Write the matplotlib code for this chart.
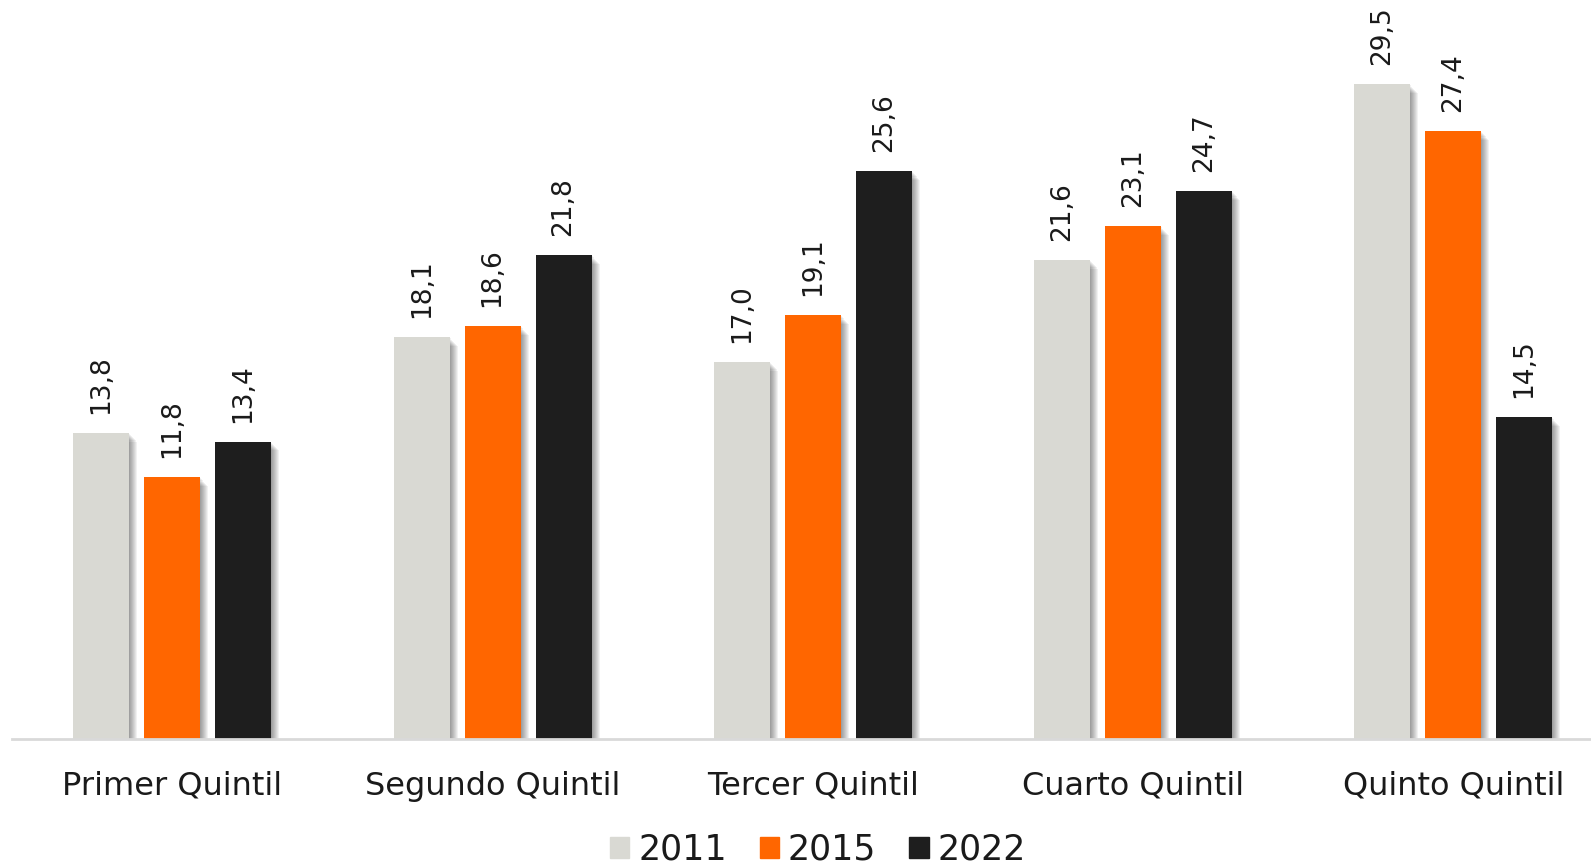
#! /usr/bin/env python3
import numpy as np
import matplotlib
matplotlib.use('Agg')
from matplotlib import pyplot as plt
from matplotlib.patches import Patch

# ==== DATA ====

categories = ['Primer Quintil', 'Segundo Quintil', 'Tercer Quintil', 'Cuarto Quintil', 'Quinto Quintil']
years = ['2011', '2015', '2022']
v2011 = [13.8, 18.1, 17.0, 21.6, 29.5]
v2015 = [11.8, 18.6, 19.1, 23.1, 27.4]
v2022 = [13.4, 21.8, 25.6, 24.7, 14.5]
colors = ['#D9D9D3', '#FF6600', '#1E1E1E']

# ==== PLOT ====

plt.rcParams['font.family'] = ['DejaVu Sans']
fig = plt.figure(figsize=(15.91, 8.65), dpi=100)
ax = fig.add_axes([0.0077, 0.1457, 0.9923, 0.8543])

x = np.arange(len(categories))
width = 0.1747
step = 0.2215
px = 4.93 / 1579  # one pixel in data units (x)

for i, (vals, col) in enumerate(zip([v2011, v2015, v2022], colors)):
    xpos = x + (i - 1) * step
    # soft drop shadow on the right
    for k in range(1, 9):
        ax.bar(xpos + k * px, np.array(vals) - 0.05 * k, width=width, color='black',
               alpha=0.055, zorder=1, linewidth=0)
    ax.bar(xpos, vals, width=width, color=col, zorder=2, linewidth=0)
    for xp, v in zip(xpos, vals):
        ax.text(xp, v + 0.85, f'{v:.1f}'.replace('.', ','), rotation=90,
                ha='center', va='bottom', fontsize=19, color='#1a1a1a')

ax.set_xlim(-0.5, 4.43)
ax.set_ylim(0, 33.3)
for s in ['top', 'right', 'left']:
    ax.spines[s].set_visible(False)
ax.spines['bottom'].set_color('#D9D9D9')
ax.spines['bottom'].set_linewidth(2)
ax.set_yticks([])
ax.set_xticks(x)
ax.set_xticklabels(categories, fontsize=23, color='#1a1a1a')
ax.tick_params(axis='x', length=0, pad=23)

handles = [Patch(color=c, label=y) for c, y in zip(colors, years)]
fig.legend(handles=handles, loc='center', bbox_to_anchor=(0.514, 0.018), ncol=3,
           frameon=False, fontsize=25, handlelength=0.56, handleheight=0.56,
           handletextpad=0.25, columnspacing=0.95, labelcolor='#1a1a1a',
           borderpad=0)

fig.savefig('out.png', dpi=100)
